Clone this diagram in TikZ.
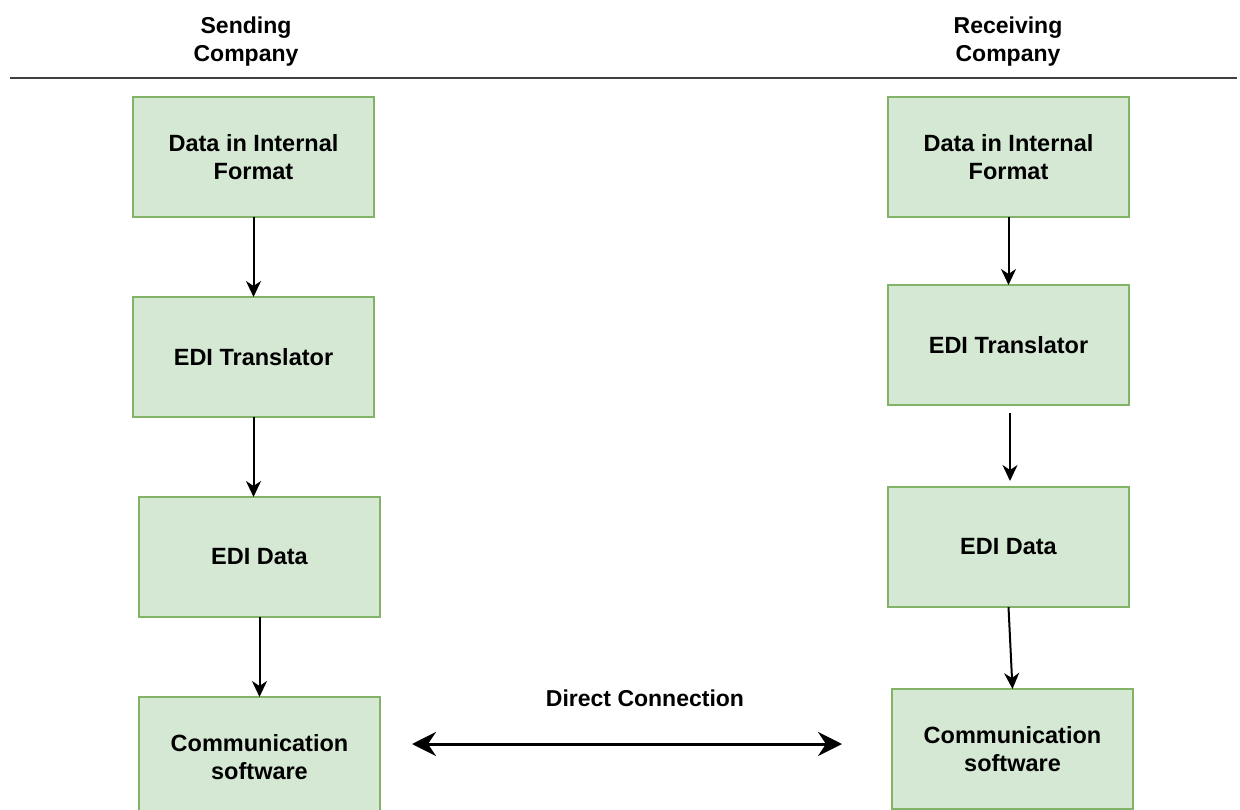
\documentclass[tikz,border=0pt]{standalone}
\usepackage{fontspec}
\setmainfont{Liberation Sans}
\usetikzlibrary{arrows.meta}
\definecolor{boxfill}{HTML}{D5E8D4}
\definecolor{boxline}{HTML}{82B366}
\definecolor{rule}{HTML}{404040}

\begin{document}
\begin{tikzpicture}[x=1pt,y=-1pt,line width=0.6pt,
	blok/.style={draw=boxline,fill=boxfill,line width=1.6pt,outer sep=0pt,
		minimum width=241pt,minimum height=120pt,align=center,
		font=\bfseries\fontsize{23.5}{28}\selectfont},
	kop/.style={align=center,font=\bfseries\fontsize{23}{28}\selectfont},
	pijl/.style={-{Stealth[length=16pt,width=15pt,inset=5pt]},line width=2pt},
	dubbel/.style={{Stealth[length=24pt,width=24pt,inset=8pt]}-{Stealth[length=24pt,width=24pt,inset=8pt]},line width=3pt}]
	\useasboundingbox (0,0) rectangle (1240,810);
	% headings
	\node[kop] (sendHead) at (246,42) {Sending\\Company};
	\node[kop] (recvHead) at (1008,42) {Receiving\\Company};
	\coordinate (ruleL) at (10,78.5);
	\coordinate (ruleR) at (1237,78.5);
	\draw[rule,line width=2pt] (ruleL) -- (ruleR);
	% sending side
	\node[blok] (sendData)  at (253.5,157) {Data in Internal\\Format};
	\node[blok] (sendTrans) at (253.5,357) {EDI Translator};
	\node[blok] (sendEdi)   at (259.5,557) {EDI Data};
	\node[blok] (sendComm)  at (259.5,757) {Communication\\software};
	% receiving side
	\node[blok] (recvData)  at (1008.5,157) {Data in Internal\\Format};
	\node[blok] (recvTrans) at (1008.5,345) {EDI Translator};
	\node[blok] (recvEdi)   at (1008.5,547) {EDI Data};
	\node[blok] (recvComm)  at (1012.5,749) {Communication\\software};
	\draw[pijl] (sendData) -- (sendTrans);
	\draw[pijl] (sendTrans.south) -- (sendTrans.south |- sendEdi.north);
	\draw[pijl] (sendEdi) -- (sendComm);
	\draw[pijl] (recvData) -- (recvTrans);
	\draw[pijl,shorten <=8pt,shorten >=6pt] ([xshift=1.5pt]recvTrans.south) -- ([xshift=1.5pt]recvTrans.south |- recvEdi.north);
	\draw[pijl] (recvEdi.south) -- (recvComm.north);
	% link between the two companies
	\coordinate (linkL) at (412,744);
	\coordinate (linkR) at (842,744);
	\draw[dubbel] (linkL) -- (linkR);
	\node[kop] (linkText) at (645,698) {Direct Connection};
\end{tikzpicture}
\end{document}
